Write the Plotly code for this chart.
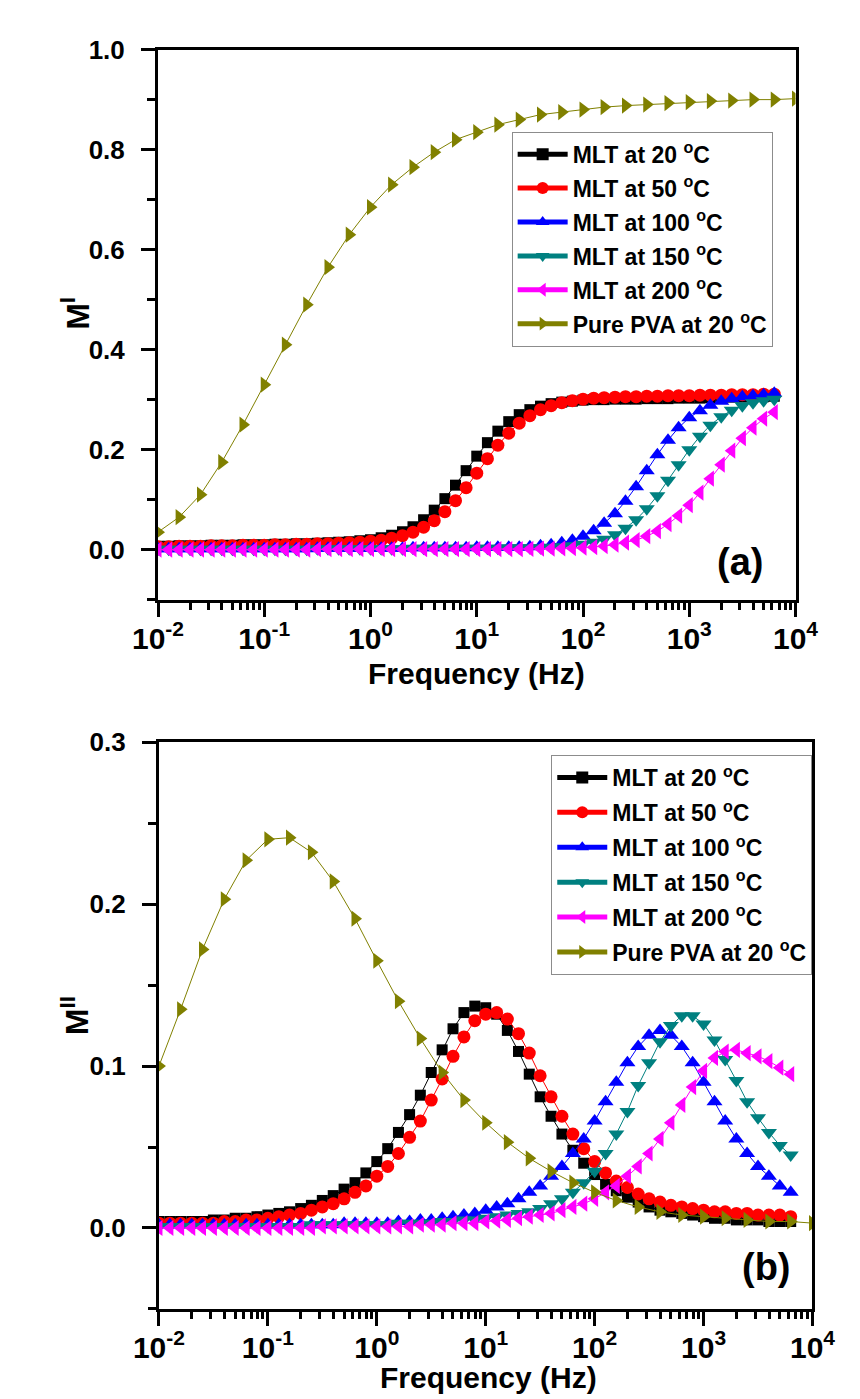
import plotly.graph_objects as go

# ---------------- data ----------------
# MLT sweep: 10 points per decade, 0.01 Hz .. 6.31 kHz
freq_mlt = [
    0.01, 0.0126, 0.0158, 0.02, 0.0251, 0.0316, 0.0398, 0.0501, 0.0631, 0.0794,
    0.1, 0.126, 0.158, 0.2, 0.251, 0.316, 0.398, 0.501, 0.631, 0.794,
    1, 1.26, 1.58, 2, 2.51, 3.16, 3.98, 5.01, 6.31, 7.94,
    10, 12.6, 15.8, 20, 25.1, 31.6, 39.8, 50.1, 63.1, 79.4,
    100, 126, 158, 200, 251, 316, 398, 501, 631, 794,
    1000, 1260, 1580, 2000, 2510, 3160, 3980, 5010, 6310,
]
# Pure PVA sweep: 5 points per decade, 0.01 Hz .. 10 kHz
freq_pva = [
    0.01, 0.0158, 0.0251, 0.0398, 0.0631,
    0.1, 0.158, 0.251, 0.398, 0.631,
    1, 1.58, 2.51, 3.98, 6.31,
    10, 15.8, 25.1, 39.8, 63.1,
    100, 158, 251, 398, 631,
    1000, 1580, 2510, 3980, 6310,
    10000,
]

# Real part M'
m1_mlt20 = [
    0.007, 0.007, 0.008, 0.008, 0.008, 0.009, 0.009, 0.009, 0.010, 0.010,
    0.010, 0.011, 0.011, 0.012, 0.012, 0.013, 0.014, 0.015, 0.016, 0.018,
    0.020, 0.024, 0.029, 0.036, 0.046, 0.060, 0.079, 0.102, 0.129, 0.158,
    0.187, 0.214, 0.237, 0.256, 0.270, 0.280, 0.287, 0.292, 0.295, 0.297,
    0.299, 0.300, 0.300, 0.301, 0.301, 0.301, 0.302, 0.302, 0.302, 0.303,
    0.303, 0.303, 0.304, 0.304, 0.305, 0.305, 0.306, 0.306, 0.307,
]
m1_mlt50 = [
    0.006, 0.006, 0.007, 0.007, 0.007, 0.008, 0.008, 0.008, 0.009, 0.009,
    0.009, 0.010, 0.010, 0.011, 0.011, 0.012, 0.012, 0.013, 0.014, 0.015,
    0.017, 0.019, 0.023, 0.028, 0.035, 0.045, 0.058, 0.076, 0.098, 0.124,
    0.153, 0.182, 0.209, 0.233, 0.253, 0.268, 0.280, 0.288, 0.294, 0.298,
    0.301, 0.303, 0.304, 0.305, 0.306, 0.306, 0.307, 0.307, 0.308, 0.308,
    0.308, 0.309, 0.309, 0.309, 0.310, 0.310, 0.310, 0.311, 0.311,
]
m1_mlt100 = [
    0.002, 0.002, 0.002, 0.002, 0.002, 0.002, 0.002, 0.002, 0.002, 0.002,
    0.002, 0.002, 0.002, 0.002, 0.002, 0.003, 0.003, 0.003, 0.003, 0.003,
    0.003, 0.003, 0.003, 0.003, 0.004, 0.004, 0.004, 0.004, 0.004, 0.004,
    0.005, 0.005, 0.005, 0.005, 0.005, 0.006, 0.008, 0.010, 0.014, 0.019,
    0.027, 0.038, 0.053, 0.072, 0.097, 0.126, 0.158, 0.190, 0.219, 0.244,
    0.264, 0.278, 0.289, 0.297, 0.302, 0.306, 0.308, 0.310, 0.313,
]
m1_mlt150 = [
    0.001, 0.001, 0.001, 0.001, 0.001, 0.001, 0.001, 0.001, 0.001, 0.001,
    0.001, 0.001, 0.001, 0.001, 0.001, 0.002, 0.002, 0.002, 0.002, 0.002,
    0.002, 0.002, 0.002, 0.002, 0.003, 0.003, 0.003, 0.003, 0.003, 0.003,
    0.003, 0.003, 0.003, 0.004, 0.004, 0.004, 0.004, 0.005, 0.006, 0.008,
    0.011, 0.015, 0.021, 0.030, 0.043, 0.060, 0.082, 0.108, 0.139, 0.170,
    0.200, 0.227, 0.249, 0.266, 0.279, 0.288, 0.294, 0.298, 0.301,
]
m1_mlt200 = [
    0.000, 0.000, 0.000, 0.000, 0.000, 0.000, 0.000, 0.000, 0.000, 0.000,
    0.000, 0.000, 0.000, 0.000, 0.000, 0.001, 0.001, 0.001, 0.001, 0.001,
    0.001, 0.001, 0.001, 0.001, 0.001, 0.001, 0.001, 0.001, 0.001, 0.001,
    0.001, 0.001, 0.001, 0.001, 0.001, 0.0015, 0.002, 0.002, 0.0025, 0.003,
    0.004, 0.005, 0.007, 0.010, 0.014, 0.019, 0.027, 0.037, 0.051, 0.068,
    0.089, 0.114, 0.142, 0.170, 0.198, 0.223, 0.244, 0.262, 0.275,
]
m1_pva = [
    0.035, 0.065, 0.110, 0.175, 0.250, 0.330, 0.410, 0.490, 0.565, 0.630,
    0.685, 0.730, 0.765, 0.795, 0.820, 0.835, 0.850, 0.860, 0.870, 0.875,
    0.880, 0.885, 0.888, 0.890, 0.893, 0.895, 0.897, 0.898, 0.900, 0.900,
    0.902,
]

# Imaginary part M''
m2_mlt20 = [
    0.004, 0.004, 0.004, 0.004, 0.004, 0.005, 0.005, 0.006, 0.006, 0.007,
    0.008, 0.009, 0.010, 0.012, 0.014, 0.017, 0.020, 0.024, 0.028, 0.034,
    0.041, 0.049, 0.059, 0.070, 0.082, 0.096, 0.110, 0.123, 0.133, 0.137,
    0.136, 0.132, 0.122, 0.109, 0.095, 0.081, 0.069, 0.058, 0.048, 0.040,
    0.033, 0.027, 0.023, 0.019, 0.016, 0.013, 0.011, 0.010, 0.009, 0.008,
    0.007, 0.006, 0.006, 0.005, 0.005, 0.005, 0.004, 0.004, 0.004,
]
m2_mlt50 = [
    0.003, 0.003, 0.003, 0.003, 0.003, 0.003, 0.004, 0.004, 0.005, 0.005,
    0.006, 0.007, 0.008, 0.009, 0.011, 0.013, 0.015, 0.018, 0.022, 0.026,
    0.032, 0.038, 0.046, 0.056, 0.066, 0.079, 0.092, 0.106, 0.118, 0.128,
    0.132, 0.133, 0.129, 0.120, 0.108, 0.094, 0.081, 0.069, 0.058, 0.049,
    0.041, 0.034, 0.029, 0.025, 0.021, 0.018, 0.016, 0.014, 0.013, 0.012,
    0.011, 0.010, 0.010, 0.009, 0.009, 0.008, 0.008, 0.008, 0.007,
]
m2_mlt100 = [
    0.002, 0.002, 0.002, 0.002, 0.002, 0.002, 0.002, 0.002, 0.002, 0.002,
    0.002, 0.002, 0.002, 0.002, 0.002, 0.002, 0.002, 0.003, 0.003, 0.003,
    0.003, 0.003, 0.004, 0.004, 0.005, 0.005, 0.006, 0.007, 0.008, 0.009,
    0.011, 0.013, 0.015, 0.018, 0.022, 0.026, 0.032, 0.038, 0.046, 0.055,
    0.066, 0.078, 0.090, 0.102, 0.112, 0.119, 0.122, 0.119, 0.112, 0.102,
    0.090, 0.078, 0.066, 0.055, 0.046, 0.038, 0.032, 0.026, 0.022,
]
m2_mlt150 = [
    0.001, 0.001, 0.001, 0.001, 0.001, 0.001, 0.001, 0.001, 0.001, 0.001,
    0.001, 0.001, 0.001, 0.001, 0.002, 0.002, 0.002, 0.002, 0.002, 0.002,
    0.002, 0.002, 0.003, 0.003, 0.003, 0.003, 0.004, 0.004, 0.005, 0.005,
    0.006, 0.007, 0.008, 0.009, 0.010, 0.012, 0.015, 0.018, 0.022, 0.028,
    0.035, 0.046, 0.058, 0.072, 0.088, 0.102, 0.115, 0.125, 0.131, 0.131,
    0.126, 0.116, 0.104, 0.091, 0.078, 0.068, 0.059, 0.051, 0.045,
]
m2_mlt200 = [
    0.000, 0.000, 0.000, 0.000, 0.000, 0.000, 0.000, 0.000, 0.000, 0.000,
    0.000, 0.000, 0.000, 0.000, 0.000, 0.001, 0.001, 0.001, 0.001, 0.001,
    0.001, 0.001, 0.001, 0.001, 0.002, 0.002, 0.002, 0.003, 0.003, 0.003,
    0.004, 0.0045, 0.005, 0.006, 0.007, 0.008, 0.009, 0.011, 0.013, 0.015,
    0.018, 0.022, 0.026, 0.032, 0.038, 0.046, 0.055, 0.065, 0.076, 0.087,
    0.097, 0.105, 0.109, 0.110, 0.108, 0.106, 0.103, 0.099, 0.095,
]
m2_pva = [
    0.100, 0.135, 0.172, 0.203, 0.227, 0.240, 0.241, 0.232, 0.214, 0.191,
    0.165, 0.140, 0.117, 0.096, 0.079, 0.065, 0.053, 0.043, 0.035, 0.028,
    0.022, 0.017, 0.013, 0.010, 0.008, 0.007, 0.006, 0.005, 0.004, 0.004,
    0.003,
]

series_names = [
    "MLT at 20 <sup>o</sup>C",
    "MLT at 50 <sup>o</sup>C",
    "MLT at 100 <sup>o</sup>C",
    "MLT at 150 <sup>o</sup>C",
    "MLT at 200 <sup>o</sup>C",
    "Pure PVA at 20 <sup>o</sup>C",
]
x_tick_vals = [0.01, 0.1, 1, 10, 100, 1000, 10000]
x_tick_text = ["10<sup>-2</sup>", "10<sup>-1</sup>", "10<sup>0</sup>", "10<sup>1</sup>",
               "10<sup>2</sup>", "10<sup>3</sup>", "10<sup>4</sup>"]

# ---------------- styling ----------------
colors = ["#000000", "#FF0000", "#0000FF", "#008080", "#FF00FF", "#808000"]
symbols = ["square", "circle", "triangle-up", "triangle-down", "triangle-left", "triangle-right"]
sizes = [11, 13, 14, 14, 14, 14]
FONT = "Liberation Sans, Arial, sans-serif"

W, H = 860, 1399


def px_x(x):
    return x / W


def px_y(y):
    return 1 - y / H


fig = go.Figure()

top_sets = [(freq_mlt, m1_mlt20), (freq_mlt, m1_mlt50), (freq_mlt, m1_mlt100),
            (freq_mlt, m1_mlt150), (freq_mlt, m1_mlt200), (freq_pva, m1_pva)]
bot_sets = [(freq_mlt, m2_mlt20), (freq_mlt, m2_mlt50), (freq_mlt, m2_mlt100),
            (freq_mlt, m2_mlt150), (freq_mlt, m2_mlt200), (freq_pva, m2_pva)]

for i, (fx, fy) in enumerate(top_sets):
    fig.add_trace(go.Scatter(
        x=fx, y=fy, mode="lines+markers", name=series_names[i],
        xaxis="x", yaxis="y", legend="legend", legendgroup=f"a{i}",
        line=dict(color=colors[i], width=1),
        marker=dict(symbol=symbols[i], size=sizes[i], color=colors[i], line=dict(width=0)),
    ))

for i, (fx, fy) in enumerate(bot_sets):
    fig.add_trace(go.Scatter(
        x=fx, y=fy, mode="lines+markers", name=series_names[i],
        xaxis="x2", yaxis="y2", legend="legend2", legendgroup=f"b{i}",
        line=dict(color=colors[i], width=1),
        marker=dict(symbol=symbols[i], size=sizes[i], color=colors[i], line=dict(width=0)),
    ))

minor_x = [m * 10 ** e for e in range(-2, 4) for m in range(2, 10)]


def x_axis(domain, anchor):
    return dict(
        type="log", range=[-2, 4], domain=domain, anchor=anchor,
        showline=True, linewidth=3, linecolor="black", mirror=True,
        ticks="outside", ticklen=14, tickwidth=2.5, tickcolor="black",
        tickmode="array", tickvals=x_tick_vals, ticktext=x_tick_text,
        tickfont=dict(family=FONT, size=30, color="black", weight="bold"),
        ticklabelstandoff=-4,
        showgrid=False, zeroline=False,
        minor=dict(tickmode="array", tickvals=minor_x, ticks="outside",
                   ticklen=7, tickwidth=2.5, tickcolor="black", showgrid=False),
    )


def y_axis(domain, anchor, rng, major, minor):
    return dict(
        range=rng, domain=domain, anchor=anchor,
        showline=True, linewidth=3, linecolor="black", mirror=True,
        ticks="outside", ticklen=14, tickwidth=2.5, tickcolor="black",
        tickmode="array", tickvals=major, ticktext=[f"{v:.1f}" for v in major],
        tickfont=dict(family=FONT, size=26, color="black", weight="bold"),
        ticklabelstandoff=11,
        showgrid=False, zeroline=False,
        minor=dict(tickmode="array", tickvals=minor, ticks="outside",
                   ticklen=8, tickwidth=2.5, tickcolor="black", showgrid=False),
    )


def legend_style(gap):
    return dict(
        xanchor="left", yanchor="top",
        bgcolor="white", bordercolor="#8c8c8c", borderwidth=1,
        font=dict(family=FONT, size=23, color="black", weight="bold"),
        tracegroupgap=gap, itemsizing="constant", itemwidth=50,
    )


fig.update_layout(
    width=W, height=H,
    margin=dict(l=0, r=0, t=0, b=0),
    paper_bgcolor="white", plot_bgcolor="white",
    font=dict(family=FONT, color="black"),
    xaxis=x_axis([px_x(140), px_x(816)], "y"),
    yaxis=y_axis([px_y(591), px_y(35)], "x", [-0.1, 1.0],
                 [0.0, 0.2, 0.4, 0.6, 0.8, 1.0], [-0.1, 0.1, 0.3, 0.5, 0.7, 0.9]),
    xaxis2=x_axis([px_x(141), px_x(834)], "y2"),
    yaxis2=y_axis([px_y(1308), px_y(735)], "x2", [-0.05, 0.3],
                  [0.0, 0.1, 0.2, 0.3], [-0.05, 0.05, 0.15, 0.25]),
    legend=dict(x=px_x(515), y=px_y(118), **legend_style(1)),
    legend2=dict(x=px_x(557), y=px_y(748), **legend_style(2)),
    showlegend=True,
)

annotations = [
    # axis titles
    dict(text="<b>Frequency (Hz)</b>", x=px_x(478), y=px_y(666), font=dict(size=30)),
    dict(text="<b>Frequency (Hz)</b>", x=px_x(490), y=px_y(1377), font=dict(size=30)),
    dict(text="<b>M<sup>I</sup></b>", x=px_x(52), y=px_y(302), textangle=-90, font=dict(size=32)),
    dict(text="<b>M<sup>II</sup></b>", x=px_x(52), y=px_y(1012), textangle=-90, font=dict(size=32)),
    # panel labels
    dict(text="<b>(a)</b>", x=px_x(757), y=px_y(553), font=dict(size=38)),
    dict(text="<b>(b)</b>", x=px_x(785), y=px_y(1266), font=dict(size=38)),
]
for a in annotations:
    a.update(xref="paper", yref="paper", showarrow=False,
             xanchor="center", yanchor="middle")
    a["font"].update(family=FONT, color="black")
fig.update_layout(annotations=annotations)

fig.write_html("out.html")
